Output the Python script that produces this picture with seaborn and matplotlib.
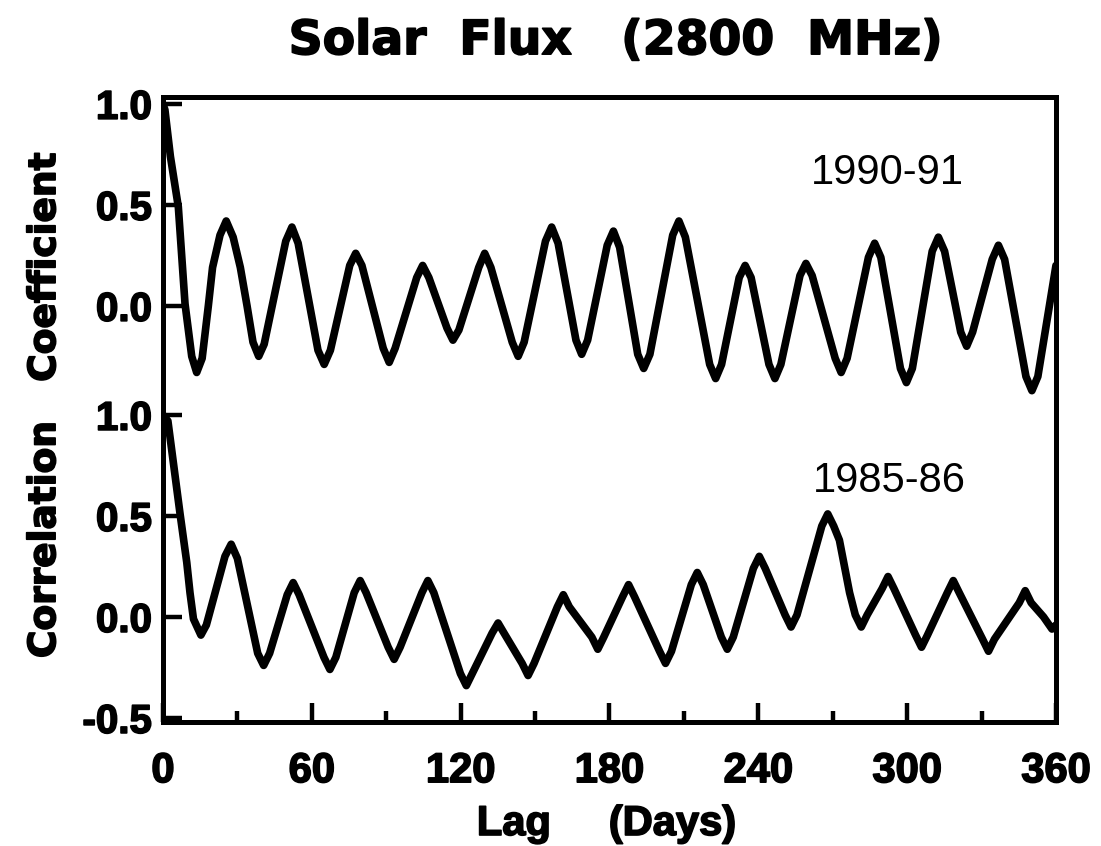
import numpy as np
import pandas as pd
import matplotlib
matplotlib.use("Agg")
import matplotlib.pyplot as plt
import matplotlib.patheffects as pe
import seaborn as sns

# autocorrelation of 2800 MHz solar flux
lag_9091 = [0, 0.8, 3, 6.2, 8.9, 11.6, 13.6, 15.8, 18.3, 20, 23, 25.5, 28.3, 31.2, 33.9,
            36.3, 38.6, 40.8, 49.5, 52, 54.5, 62.5, 65, 67.5, 75.3, 77.7, 80.2,
            88.8, 91.2, 93.6, 102.3, 104.7, 107.2, 114.5, 116.9, 119.3,
            127.3, 129.7, 132.2, 140.8, 143.2, 145.6, 154.2, 156.7, 159.3,
            166.5, 168.8, 171.2, 179.1, 181.6, 184.1, 191.4, 193.8, 196.3,
            205.5, 208, 210.6, 220.4, 222.8, 225.2, 232.3, 234.7, 237.1,
            244.3, 246.7, 249.1, 256.8, 259.2, 261.7, 271, 273.4, 275.8,
            284.4, 286.9, 289.4, 297.3, 299.7, 302.1, 310.1, 312.6, 315.1,
            321.6, 324, 326.4, 334.3, 336.8, 339.3, 347.9, 350.3, 352.7, 360]
acf_9091 = [1.00, 0.97, 0.74, 0.49, 0.01, -0.25, -0.33, -0.26, 0.00, 0.19, 0.35, 0.42, 0.34, 0.19, 0.00,
            -0.18, -0.25, -0.19, 0.32, 0.39, 0.31, -0.22, -0.29, -0.22, 0.20, 0.26, 0.20,
            -0.21, -0.28, -0.21, 0.14, 0.20, 0.14, -0.11, -0.17, -0.12,
            0.19, 0.26, 0.19, -0.18, -0.25, -0.18, 0.32, 0.39, 0.31,
            -0.17, -0.24, -0.17, 0.30, 0.37, 0.29, -0.24, -0.31, -0.24,
            0.35, 0.42, 0.34, -0.29, -0.36, -0.29, 0.14, 0.20, 0.14,
            -0.29, -0.36, -0.29, 0.15, 0.21, 0.15, -0.26, -0.33, -0.26,
            0.24, 0.31, 0.24, -0.31, -0.38, -0.31, 0.27, 0.34, 0.27,
            -0.13, -0.20, -0.13, 0.23, 0.30, 0.23, -0.35, -0.42, -0.35, 0.20]

lag_8586 = [0, 2, 6.9, 9.6, 10.9, 12.3, 15.3, 17.5, 25, 27.5, 30, 38.2, 40.6, 43,
            50.1, 52.5, 54.9, 64.9, 67.3, 69.7, 77.1, 79.5, 81.9,
            90.8, 93.2, 95.6, 104.4, 106.8, 109.2, 119.9, 122.3, 124.7,
            132.7, 135.1, 137.5, 144.8, 147.2, 149.6, 159, 161.4, 163.8,
            172.9, 175.3, 177.7, 185.3, 187.7, 190.1, 200.2, 202.6, 205,
            213, 215.4, 217.8, 225.1, 227.5, 229.9, 238, 240.4, 242.8,
            250.8, 253.2, 255.6, 265.6, 268, 270.4, 272.7, 276.8, 279.1, 281.5, 283.9,
            289.9, 292.3, 294.7, 303.4, 305.8, 308.2, 316.2, 318.6, 321,
            330.4, 332.8, 335.2, 345.2, 347.6, 350, 355, 358.4, 360]
acf_8586 = [1.00, 0.97, 0.51, 0.27, 0.12, -0.01, -0.09, -0.04, 0.30, 0.36, 0.29, -0.18, -0.24, -0.18,
            0.11, 0.17, 0.11, -0.20, -0.26, -0.20, 0.12, 0.18, 0.12,
            -0.15, -0.21, -0.15, 0.12, 0.18, 0.12, -0.28, -0.34, -0.28,
            -0.08, -0.03, -0.08, -0.23, -0.29, -0.23, 0.05, 0.11, 0.05,
            -0.10, -0.16, -0.10, 0.10, 0.16, 0.10, -0.17, -0.23, -0.17,
            0.16, 0.22, 0.16, -0.10, -0.16, -0.10, 0.24, 0.30, 0.24,
            0.01, -0.05, 0.01, 0.45, 0.51, 0.45, 0.38, 0.12, 0.01, -0.05, 0.01,
            0.14, 0.20, 0.14, -0.09, -0.15, -0.09, 0.12, 0.18, 0.12,
            -0.11, -0.17, -0.11, 0.07, 0.13, 0.07, 0.00, -0.06, -0.04]

# the 1990-91 panel is stacked above the 1985-86 one on a shared frame
upper_offset = 1.54
y_ticks = [-0.5, 0.0, 0.5, 1.0, 1.54, 2.04, 2.54]
y_tick_labels = ["-0.5", "0.0", "0.5", "1.0", "0.0", "0.5", "1.0"]
x_ticks = [0, 60, 120, 180, 240, 300, 360]
x_minor = [30, 90, 150, 210, 270, 330]

df = pd.concat([
    pd.DataFrame({"lag": lag_9091, "r": np.array(acf_9091) + upper_offset, "period": "1990-91"}),
    pd.DataFrame({"lag": lag_8586, "r": acf_8586, "period": "1985-86"}),
])

sns.set_theme(style="white")
plt.rcParams['font.family'] = ['DejaVu Sans']
plt.rcParams.update({"text.color": "black", "axes.labelcolor": "black",
                     "xtick.color": "black", "ytick.color": "black"})
helv = "Liberation Sans"
heavy = [pe.withStroke(linewidth=1.2, foreground="black")]

fig = plt.figure(figsize=(11.01, 8.46), dpi=100)
ax = fig.add_axes([0.148, 0.1466, 0.8111, 0.7388])

sns.lineplot(data=df, x="lag", y="r", hue="period",
             palette={"1990-91": "black", "1985-86": "black"},
             linewidth=5.5, legend=False, ax=ax)
for line in ax.lines:
    line.set_solid_joinstyle("round")
    line.set_solid_capstyle("round")

ax.set_xlim(0, 360)
ax.set_ylim(-0.52, 2.574)
ax.set_xticks(x_ticks)
ax.set_xticks(x_minor, minor=True)
ax.set_yticks(y_ticks)
ax.set_yticklabels(y_tick_labels, fontsize=29, fontweight="bold", family=helv)
ax.set_xticklabels([str(t) for t in x_ticks], fontsize=30, fontweight="bold", family=helv)
for lab in ax.get_xticklabels() + ax.get_yticklabels():
    lab.set_path_effects(heavy)
ax.set_xlabel("")
ax.set_ylabel("")

for s in ax.spines.values():
    s.set_linewidth(3.6)
    s.set_color("black")
ax.tick_params(axis="x", which="major", direction="in", length=14, width=3.2, pad=21, bottom=True)
ax.tick_params(axis="x", which="minor", direction="in", length=8, width=3.2, bottom=True)
ax.tick_params(axis="y", which="major", direction="in", length=14, width=3.2, pad=8, left=True)

ax.text(261, 2.20, "1990-91", fontsize=30, va="center", ha="left", family=helv)
ax.text(262, 0.675, "1985-86", fontsize=30, va="center", ha="left", family=helv)

fig.text(0.5597, 0.936, "Solar  Flux   (2800  MHz)", fontsize=34, fontweight="bold",
         ha="center", va="baseline", path_effects=heavy)
fig.text(0.551, 0.013, "Lag     (Days)", fontsize=30, fontweight="bold", family=helv,
         ha="center", va="baseline", path_effects=heavy)
fig.text(0.041, 0.521, "Correlation   Coefficient", fontsize=27, fontweight="bold",
         rotation=90, ha="center", va="center", path_effects=heavy)

fig.savefig("out.png", dpi=100, facecolor="white")
